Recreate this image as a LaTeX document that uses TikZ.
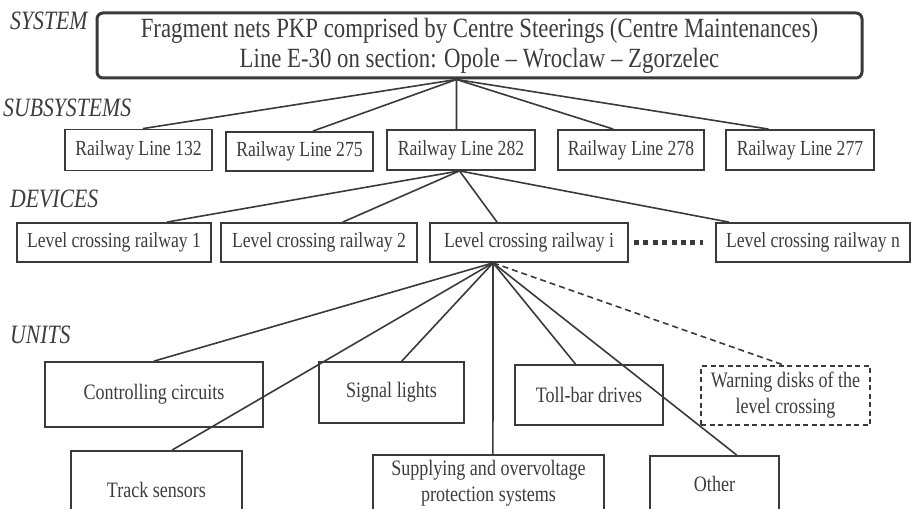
\documentclass[tikz,border=0pt]{standalone}
\usepackage{fontspec}
\setmainfont{Liberation Serif}[FakeStretch=0.82]
\usetikzlibrary{calc}
\definecolor{ink}{HTML}{3A3A3A}
\definecolor{txt}{HTML}{3C3C3C}
\begin{document}
\begin{tikzpicture}[x=1pt,y=-1pt,
  box/.style={draw=ink,line width=1.8pt,inner sep=0pt,align=center,text=txt,font=\fontsize{21.5}{24}\selectfont},
  ubox/.style={box,font=\fontsize{22}{26}\selectfont},
  dbox/.style={ubox,dash pattern=on 5pt off 3.5pt},
  sysbox/.style={draw=ink,line width=3pt,rounded corners=6pt,inner sep=0pt,align=center,text=txt,font=\fontsize{27.8}{30}\selectfont},
  lvl/.style={anchor=base west,text=txt,font=\fontsize{26.5}{28}\selectfont\itshape,inner sep=0pt},
  conn/.style={draw=ink,line width=1.6pt},
  dconn/.style={conn,dash pattern=on 6pt off 4pt},
  dotrow/.style={draw=ink,line width=4.5pt,dash pattern=on 5pt off 4.4pt}
]
\useasboundingbox (0,0) rectangle (912,510);
\clip (0,0) rectangle (912,508.5);

% level labels
\node[lvl] (lsys) at (10,30) {SYSTEM};
\node[lvl] (lsub) at (3,117) {SUBSYSTEMS};
\node[lvl] (ldev) at (10,208) {DEVICES};
\node[lvl] (luni) at (10,343) {UNITS};

% system
\node[sysbox,minimum width=765pt,minimum height=65pt] (sys) at (479.5,45.5)
  {Fragment nets PKP comprised by Centre Steerings (Centre Maintenances)\\Line E-30 on section: Opole -- Wroclaw -- Zgorzelec};

% subsystems
\node[box,minimum width=147pt,minimum height=41pt] (r132) at (138.5,150) {Railway Line 132};
\node[box,minimum width=147pt,minimum height=39pt] (r275) at (299.5,151.5) {Railway Line 275};
\node[box,minimum width=148pt,minimum height=40pt] (r282) at (461,150) {Railway Line 282};
\node[box,minimum width=146pt,minimum height=40pt] (r278) at (631,150) {Railway Line 278};
\node[box,minimum width=148pt,minimum height=40pt] (r277) at (800,150) {Railway Line 277};

% devices
\node[box,minimum width=194pt,minimum height=39pt] (lc1) at (114,242.5) {Level crossing railway 1};
\node[box,minimum width=196pt,minimum height=39pt] (lc2) at (319,242.5) {Level crossing railway 2};
\node[box,minimum width=198pt,minimum height=39pt] (lci) at (529,242.5) {Level crossing railway i};
\node[box,minimum width=194pt,minimum height=39pt] (lcn) at (813,242.5) {Level crossing railway n};

% units
\node[ubox,minimum width=218pt,minimum height=65pt] (cc) at (154,394.5) {Controlling circuits};
\node[ubox,minimum width=145pt,minimum height=61pt] (sl) at (391.5,392.5) {Signal lights};
\node[ubox,minimum width=148pt,minimum height=60pt] (tb) at (589,395) {Toll-bar drives};
\node[dbox,minimum width=169pt,minimum height=59pt] (wd) at (785.5,395.5) {Warning disks of the\\level crossing};
\node[ubox,minimum width=171pt,minimum height=78pt] (ts) at (156.5,490) {Track sensors};
\node[ubox,minimum width=231pt,minimum height=56pt] (sp) at (488.5,483) {Supplying and overvoltage\\protection systems};
\node[ubox,minimum width=129pt,minimum height=56pt] (ot) at (714.5,484) {Other};

% connector points
\coordinate (sysb) at ($(sys.south west)!0.47!(sys.south east)$);
\coordinate (t132) at ($(r132.north west)!0.53!(r132.north east)$);
\coordinate (t275) at ($(r275.north west)!0.59!(r275.north east)$);
\coordinate (t282) at ($(r282.north west)!0.47!(r282.north east)$);
\coordinate (t278) at ($(r278.north west)!0.38!(r278.north east)$);
\coordinate (t277) at ($(r277.north west)!0.29!(r277.north east)$);

\coordinate (b282) at ($(r282.south west)!0.49!(r282.south east)$);
\coordinate (tlc1) at ($(lc1.north west)!0.77!(lc1.north east)$);
\coordinate (tlc2) at ($(lc2.north west)!0.62!(lc2.north east)$);
\coordinate (tlci) at ($(lci.north west)!0.34!(lci.north east)$);
\coordinate (tlcn) at ($(lcn.north west)!0.07!(lcn.north east)$);

\coordinate (blci) at ($(lci.south west)!0.32!(lci.south east)$);
\coordinate (tts) at ($(ts.north west)!0.59!(ts.north east)$);
\coordinate (tsl) at ($(sl.north west)!0.57!(sl.north east)$);
\coordinate (tsp) at ($(sp.north west)!0.519!(sp.north east)$);
\coordinate (ttb) at ($(tb.north west)!0.41!(tb.north east)$);
\coordinate (tot) at ($(ot.north west)!0.67!(ot.north east)$);
\coordinate (twd) at ($(wd.north west)!0.49!(wd.north east)$);

% connectors
\draw[conn] (sysb) -- (t132);
\draw[conn] (sysb) -- (t275);
\draw[conn] (sysb) -- (t282);
\draw[conn] (sysb) -- (t278);
\draw[conn] (sysb) -- (t277);

\draw[conn] (b282) -- (tlc1);
\draw[conn] (b282) -- (tlc2);
\draw[conn] (b282) -- (tlci);
\draw[conn] (b282) -- (tlcn);

\draw[conn] (blci) -- (cc.north);
\draw[conn] (blci) -- (tts);
\draw[conn] (blci) -- (tsl);
\draw[conn] (blci) -- (tsp);
\draw[conn] (blci) -- (ttb);
\draw[conn] (blci) -- (tot);
\draw[dconn] (blci) -- (twd);

% dots between devices
\draw[dotrow] ($(lci.east)+(5,0)$) -- ($(lcn.west)+(-12,0)$);
\end{tikzpicture}
\end{document}
